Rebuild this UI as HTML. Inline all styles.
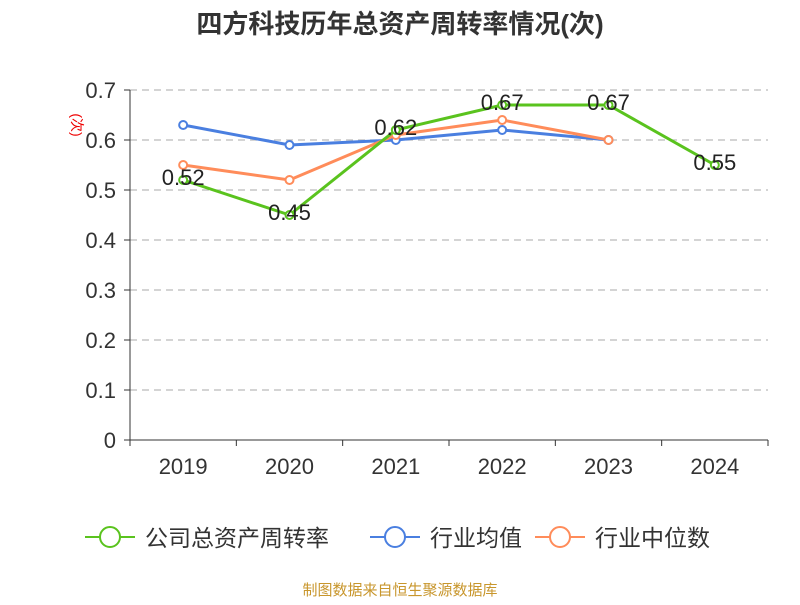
<!DOCTYPE html>
<html><head><meta charset="utf-8"><style>
body{margin:0;background:#fff;font-family:"Liberation Sans","Noto Sans CJK SC",sans-serif}
</style></head><body>
<svg width="800" height="600" xmlns="http://www.w3.org/2000/svg" font-family="Liberation Sans, Noto Sans CJK SC, sans-serif">
<text x="400" y="33" text-anchor="middle" font-size="26" font-weight="bold" fill="#333">四方科技历年总资产周转率情况(次)</text>
<text x="72" y="125" font-size="14" fill="#e00" transform="rotate(90 72 125)" text-anchor="middle">(次)</text>
<g id="grid"></g><g id="axes"></g><g id="series"></g>
<g id="legend"></g>
<text x="400" y="595" text-anchor="middle" font-size="15" fill="#c8962c">制图数据来自恒生聚源数据库</text>
</svg>
<script>
const categories=["2019","2020","2021","2022","2023","2024"];
const company=[0.52,0.45,0.62,0.67,0.67,0.55];
const industryMean=[0.63,0.59,0.60,0.62,0.60,null];
const industryMedian=[0.55,0.52,0.61,0.64,0.60,null];
const yTicks=[0,0.1,0.2,0.3,0.4,0.5,0.6,0.7];
const NS="http://www.w3.org/2000/svg";
const x0=130,x1=768,yb=440,yt=90;
const bw=(x1-x0)/categories.length;
const X=i=>x0+bw*(i+0.5);
const Y=v=>yb-(v/0.7)*(yb-yt);
function mk(t,a,p){const e=document.createElementNS(NS,t);for(const k in a)e.setAttribute(k,a[k]);p.appendChild(e);return e;}
const grid=document.getElementById('grid'),axes=document.getElementById('axes'),ser=document.getElementById('series'),leg=document.getElementById('legend');
yTicks.forEach(v=>{
 if(v>0){const g=mk('line',{x1:x0,x2:x1,y1:Y(v),y2:Y(v),stroke:'#bbb','stroke-width':1.3,'stroke-dasharray':'7,5'},grid);
 
 }
 const tk=mk('line',{x1:x0-6,x2:x0,y1:Y(v),y2:Y(v),stroke:'#333'},axes);
 
 
 const t=mk('text',{x:x0-14,y:Y(v)+8,'text-anchor':'end','font-size':22,fill:'#333'},axes);t.textContent=v;
 
 
});
const ya=mk('line',{x1:x0,x2:x0,y1:yt,y2:yb,stroke:'#333'},axes);


const xa=mk('line',{x1:x0,x2:x1,y1:yb,y2:yb,stroke:'#333'},axes);


for(let i=0;i<=categories.length;i++){const tk=mk('line',{x1:x0+bw*i,x2:x0+bw*i,y1:yb,y2:yb+6,stroke:'#333'},axes);
 
 }
categories.forEach((c,i)=>{const t=mk('text',{x:X(i),y:474,'text-anchor':'middle','font-size':22,fill:'#333'},axes);t.textContent=c;
 
 });
function line(vals,color,w,name,labels){
 const pts=vals.map((v,i)=>v==null?null:[X(i),Y(v)]).filter(p=>p);
 const pl=mk('polyline',{points:pts.map(p=>p.join(',')).join(' '),fill:'none',stroke:color,'stroke-width':w},ser);
 
 
 vals.forEach((v,i)=>{if(v==null)return;
  const c=mk('circle',{cx:X(i),cy:Y(v),r:4,fill:'#fff',stroke:color,'stroke-width':2},ser);
  
  
  if(labels){const t=mk('text',{x:X(i),y:Y(v)+5,'text-anchor':'middle','font-size':22,fill:'#222'},ser);t.textContent=v.toFixed(2);
  
  }
 });
}
line(industryMean,'#4a7fe0',3,'industry-mean',false);
line(industryMedian,'#ff8c5a',3,'industry-median',false);
line(company,'#5ac31e',3,'company',true);
const items=[["公司总资产周转率","#5ac31e",85],["行业均值","#4a7fe0",370],["行业中位数","#ff8c5a",535]];
items.forEach(([n,c,x])=>{
 const g=mk('g',{},leg);
 
 
 mk('line',{x1:x,x2:x+50,y1:537,y2:537,stroke:c,'stroke-width':2},g);
 mk('circle',{cx:x+25,cy:537,r:10,fill:'#fff',stroke:c,'stroke-width':2},g);
 const t=mk('text',{x:x+60,y:546,'font-size':23,fill:'#333'},g);t.textContent=n;
});
</script>
</body></html>
